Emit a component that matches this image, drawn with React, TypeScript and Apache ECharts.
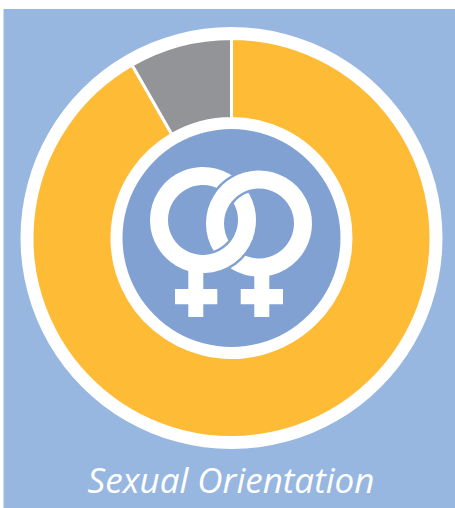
import React, { useEffect, useRef } from "react";
import * as echarts from "echarts";

const categories = ["Heterosexual", "Lesbian, gay or bisexual"];
const values = [91.7, 8.3];
const sliceColors = ["#FDBB36", "#929497"];
const chartTitle = "Sexual Orientation";

const PANEL = "#97B7E1";
const INNER = "#81A1D3";
const WHITE = "#FFFFFF";
const CX = 231.5;
const CY = 238;

const L = { cx: 203, cy: 220, r: 44 };
const R = { cx: 259, cy: 223.5, r: 44 };
const deg = (d: number) => (d * Math.PI) / 180;

const ring = (c: typeof L, z: number) => ({
  type: "circle", z, shape: { cx: c.cx, cy: c.cy, r: c.r },
  style: { fill: "none", stroke: WHITE, lineWidth: 18 },
});
const over = (c: typeof L, a: number, b: number, z: number, stroke: string, lineWidth: number) => ({
  type: "arc", z,
  shape: { cx: c.cx, cy: c.cy, r: c.r, startAngle: deg(a), endAngle: deg(b), clockwise: true },
  style: { fill: "none", stroke, lineWidth, lineCap: "butt" },
});
const bar = (x: number, y: number, width: number, height: number, z: number) => ({
  type: "rect", z, shape: { x, y, width, height }, style: { fill: WHITE },
});

export default function App() {
  const ref = useRef<HTMLDivElement>(null);
  useEffect(() => {
    const chart = echarts.init(ref.current!, undefined, { renderer: "svg" });
    chart.setOption({
      animation: false,
      title: {
        text: chartTitle, left: 226, top: 457, textAlign: "center",
        textStyle: { color: WHITE, fontFamily: "Open Sans", fontStyle: "italic", fontWeight: "normal", fontSize: 35 },
      },
      graphic: [
        { type: "rect", z: 0, shape: { x: 3.5, y: 9, width: 452, height: 499 }, style: { fill: PANEL } },
        { type: "circle", z: 1, shape: { cx: CX, cy: CY, r: 211 }, style: { fill: WHITE } },
        { type: "circle", z: 5, shape: { cx: CX, cy: CY, r: 109 }, style: { fill: INNER } },
        ring(L, 6),
        bar(188.3, 268, 15, 49, 6),
        bar(175, 289, 42.3, 15.3, 6),
        over(R, 200, 268, 7, INNER, 23),
        ring(R, 8),
        bar(254.3, 272, 15, 45, 8),
        bar(240.7, 289, 42.3, 15.3, 8),
        over(L, 22, 86, 9, INNER, 23),
        over(L, 20, 88, 10, WHITE, 18),
      ],
      series: [
        {
          type: "pie", z: 2, silent: true, center: [CX, CY], radius: [119.5, 199.5],
          startAngle: 90, clockwise: true, label: { show: false }, labelLine: { show: false },
          itemStyle: { borderColor: WHITE, borderWidth: 3 },
          data: categories.map((name, i) => ({ name, value: values[i], itemStyle: { color: sliceColors[i] } })),
        },
      ],
    });
    return () => chart.dispose();
  }, []);
  return <div ref={ref} style={{ position: "absolute", left: 0, top: 0, width: 455, height: 508 }} />;
}
